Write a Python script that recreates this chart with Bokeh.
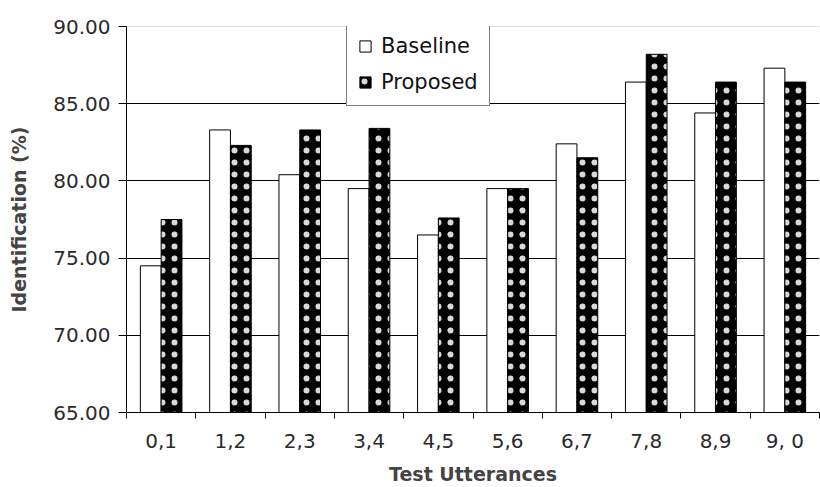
import numpy as np
from bokeh.plotting import figure
from bokeh.models import (Range1d, FixedTicker, PrintfTickFormatter, Span, Legend,
                          LegendItem, ColumnDataSource, CustomJSTickFormatter)
from bokeh.embed import file_html
from bokeh.resources import INLINE

# Speaker identification accuracy per pair of test utterances
pairs = ["0,1", "1,2", "2,3", "3,4", "4,5", "5,6", "6,7", "7,8", "8,9", "9, 0"]
baseline = [74.5, 83.3, 80.4, 79.5, 76.5, 79.5, 82.4, 86.4, 84.4, 87.3]
proposed = [77.5, 82.3, 83.3, 83.4, 77.6, 79.5, 81.5, 88.2, 86.4, 86.4]
y_ticks = [65, 70, 75, 80, 85, 90]

FONT = "DejaVu Sans"
bar_w = 0.3
idx = np.arange(len(pairs))
centers = idx + 0.5

src = ColumnDataSource(dict(
    xb=centers - bar_w / 2,
    xp=centers + bar_w / 2,
    baseline=baseline,
    proposed=proposed,
))

p = figure(width=820, height=487,
           x_range=Range1d(0, len(pairs)), y_range=Range1d(y_ticks[0], y_ticks[-1]),
           output_backend="svg", toolbar_location=None,
           min_border_left=126, min_border_right=1,
           min_border_top=26, min_border_bottom=75)
p.outline_line_color = None
p.background_fill_color = "white"
p.border_fill_color = "white"

# Horizontal reference lines
p.xgrid.visible = False
p.ygrid.ticker = FixedTicker(ticks=y_ticks[1:-1])
p.ygrid.grid_line_color = "black"
p.ygrid.grid_line_width = 1
p.ygrid.grid_line_alpha = 1
p.add_layout(Span(location=y_ticks[-1], dimension="width", line_color="#888888",
                  line_width=1, line_dash="1 1"))

r_base = p.vbar(x="xb", top="baseline", bottom=y_ticks[0], width=bar_w, source=src,
                fill_color="white", line_color="black", line_width=1)
r_prop = p.vbar(x="xp", top="proposed", bottom=y_ticks[0], width=bar_w, source=src,
                fill_color="black", line_color="black", line_width=1,
                hatch_pattern="dot", hatch_color="white", hatch_scale=12,
                hatch_weight=0.5, hatch_alpha=0.85)

# Y axis
ya = p.yaxis[0]
ya.ticker = FixedTicker(ticks=y_ticks)
ya.formatter = PrintfTickFormatter(format="%.2f")
ya.major_label_text_font = FONT
ya.major_label_text_font_size = "20px"
ya.major_label_text_color = "#2a2a2a"
ya.major_tick_out = 8
ya.major_tick_in = 0
ya.major_label_standoff = 8
ya.minor_tick_line_color = None
ya.axis_line_color = "black"
ya.axis_label = "Identification (%)"
ya.axis_label_text_font = FONT
ya.axis_label_text_font_style = "bold"
ya.axis_label_text_font_size = "19px"
ya.axis_label_standoff = 20

# X axis: labels at the group centres, ticks at the group boundaries
xa = p.xaxis[0]
xa.ticker = FixedTicker(ticks=list(centers), minor_ticks=list(range(len(pairs) + 1)))
xa.formatter = CustomJSTickFormatter(args=dict(labels=pairs),
                                     code="return labels[Math.floor(tick)];")
xa.major_tick_line_color = None
xa.major_tick_out = 6
xa.major_tick_in = 0
xa.minor_tick_out = 6
xa.minor_tick_in = 0
xa.minor_tick_line_color = "black"
xa.major_label_standoff = 10
xa.major_label_text_font = FONT
xa.major_label_text_font_size = "20px"
xa.major_label_text_color = "#2a2a2a"
xa.axis_line_color = "black"
xa.axis_label = "Test Utterances"
xa.axis_label_text_font = FONT
xa.axis_label_text_font_style = "bold"
xa.axis_label_text_font_size = "19px"
xa.axis_label_standoff = 7

legend = Legend(items=[LegendItem(label="Baseline", renderers=[r_base]),
                       LegendItem(label="Proposed", renderers=[r_prop])],
                location=(220, 306))
legend.border_line_color = "black"
legend.border_line_width = 1
legend.background_fill_color = "white"
legend.background_fill_alpha = 1
legend.label_text_font = FONT
legend.label_text_font_size = "21px"
legend.label_text_color = "#111111"
legend.glyph_width = 14
legend.glyph_height = 14
legend.label_height = 24
legend.label_standoff = 9
legend.spacing = 12
legend.padding = 11
legend.margin = 0
p.add_layout(legend)

open("out.html", "w").write(file_html(p, INLINE))
